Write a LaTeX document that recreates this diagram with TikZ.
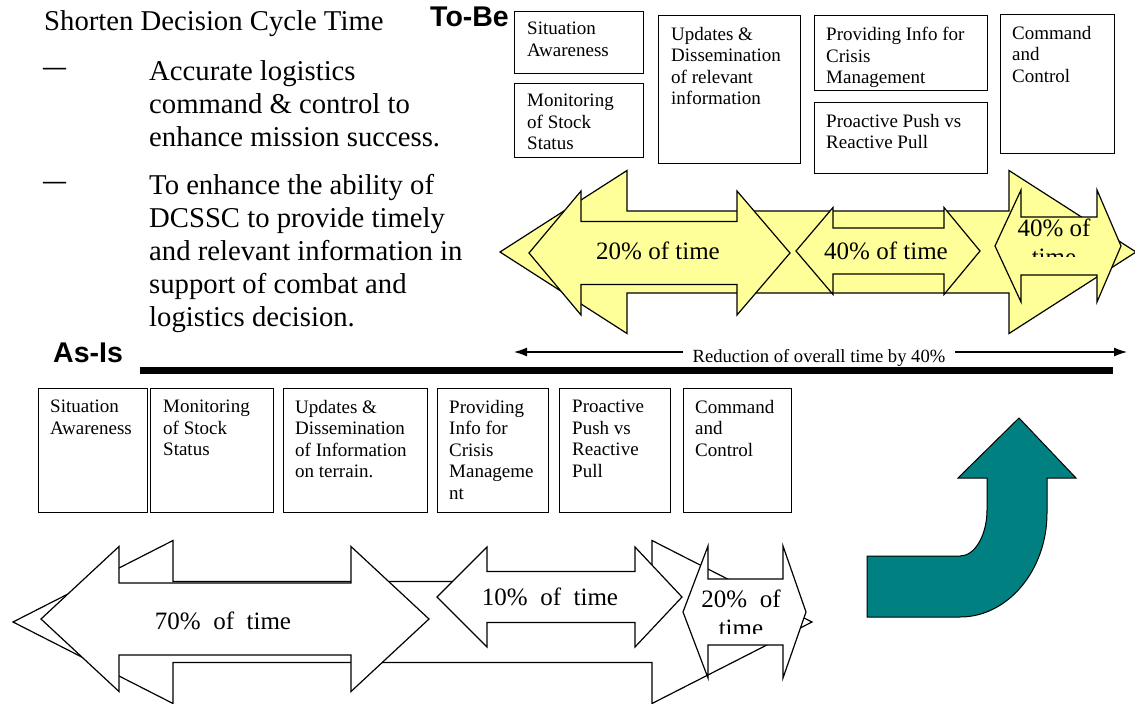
\documentclass[tikz,border=0pt]{standalone}
\usepackage{fontspec}
\setmainfont{Liberation Serif}
\setsansfont{Liberation Sans}
\usetikzlibrary{arrows.meta}
\definecolor{yfill}{HTML}{FFFF99}
\definecolor{tealc}{HTML}{008080}
\tikzset{
  yarrow/.style={draw=black, line width=1.2pt, fill=yfill, line join=miter},
  warrow/.style={draw=black, line width=1.2pt, fill=white, line join=miter},
  boxst/.style={draw=black, line width=1.4pt, inner sep=0pt, fill=white},
  boxtext/.style={inner sep=0pt, align=left, font=\fontsize{19}{21.5}\selectfont},
  side/.style={inner sep=0pt, font=\fontsize{28.7}{33}\selectfont},
  dashmark/.style={inner sep=0pt, font=\bfseries\fontsize{23}{23}\selectfont},
  lbl/.style={inner sep=0pt, font=\sffamily\bfseries\fontsize{28.5}{32}\selectfont},
  pct/.style={inner sep=0pt, font=\fontsize{25}{29}\selectfont, align=center},
  redtext/.style={fill=white, inner xsep=10pt, inner ysep=1pt, font=\fontsize{18.6}{21}\selectfont},
  tealarrow/.style={draw=black, line width=1pt, fill=tealc},
  bar/.style={line width=7pt},
  dimarrow/.style={line width=1.2pt, {Latex[length=13pt,width=9pt]}-{Latex[length=13pt,width=9pt]}}
}
% style, tipL, backL, backR, tipR, yc, shaft half, head half
\newcommand{\darr}[8]{\draw[#1] (#2,#6) -- (#3,{#6-#8}) -- (#3,{#6-#7}) -- (#4,{#6-#7}) -- (#4,{#6-#8}) -- (#5,#6) -- (#4,{#6+#8}) -- (#4,{#6+#7}) -- (#3,{#6+#7}) -- (#3,{#6+#8}) -- cycle;}
% name, x, y, w, h, pad x, pad y, text
\newcommand{\tbox}[8]{%
  \node[boxst, minimum width=#4pt, minimum height=#5pt, anchor=north west] (#1) at (#2,#3) {};
  \node[boxtext, anchor=north west] (#1t) at ([shift={(#6pt,-#7pt)}]#1.north west) {#8};}
\begin{document}
\begin{tikzpicture}[x=1pt,y=-1pt]
\useasboundingbox (0,0) rectangle (1135,704);

% left text
\node[side, anchor=base west] (t0) at (44,30) {Shorten Decision Cycle Time};
\node[dashmark, anchor=base west] (d1) at (43,74.5) {—};
\node[side, anchor=base west] (l1) at (149,80) {Accurate logistics};
\node[side, anchor=base west] (l2) at (149,113) {command \& control to};
\node[side, anchor=base west] (l3) at (149,146) {enhance mission success.};
\node[dashmark, anchor=base west] (d2) at (43,188.5) {—};
\node[side, anchor=base west] (l4) at (149,194) {To enhance the ability of};
\node[side, anchor=base west] (l5) at (149,227) {DCSSC to provide timely};
\node[side, anchor=base west] (l6) at (149,260) {and relevant information in};
\node[side, anchor=base west] (l7) at (149,293) {support of combat and};
\node[side, anchor=base west] (l8) at (149,326) {logistics decision.};

\node[lbl, anchor=base west] (tobe) at (430,26) {To-Be};
\node[lbl, anchor=base west] (asis) at (53,362) {As-Is};

% top boxes
\tbox{sa}{514}{11}{129}{62}{13}{11}{Situation\\Awareness}
\tbox{ms}{514}{83}{129}{74}{13}{11}{Monitoring\\of Stock\\Status}
\tbox{ud}{658}{15}{142}{148}{13}{12}{Updates \&\\Dissemination\\of relevant\\information}
\tbox{pi}{814}{15}{173}{75}{12}{12}{Providing Info for\\Crisis\\Management}
\tbox{pp}{814}{102}{173}{71}{12}{12}{Proactive Push vs\\Reactive Pull}
\tbox{cc}{1000}{14}{114}{139}{12}{12}{Command\\and\\Control}

% top yellow arrows
\darr{yarrow}{500}{627}{1009}{1136}{252}{41}{81.5}
\darr{yarrow}{529}{581}{737}{790}{253}{31.5}{62}
\darr{yarrow}{796}{833}{944}{980}{251}{23}{43.5}
\darr{yarrow}{995}{1021}{1097}{1121}{246}{29}{56}
\node[pct] (p20) at (658,251) {20\% of time};
\node[pct] (p40) at (886,251) {40\% of time};
\begin{scope}
\clip (1000,200) rectangle (1118,256);
\node[pct, anchor=north] (p40b) at (1054,219) {40\% of\\time};
\end{scope}

% reduction arrow and bar
\coordinate (rl) at (514,352);
\coordinate (rr) at (1127,352);
\draw[dimarrow] (rl) -- (rr);
\node[redtext] (red) at (819,358) {Reduction of overall time by 40\%};
\coordinate (bl) at (140,370);
\coordinate (br) at (1113,370);
\draw[bar] (bl) -- (br);

% bottom boxes
\tbox{bsa}{38}{388}{109}{124}{12}{12}{Situation\\Awareness}
\tbox{bms}{150}{388}{123}{124}{13}{12}{Monitoring\\of Stock\\Status}
\tbox{bud}{283}{388}{144}{124}{12}{12}{Updates \&\\Dissemination\\of Information\\on terrain.}
\tbox{bpi}{437}{388}{111}{124}{12}{12}{Providing\\Info for\\Crisis\\Manageme\\nt}
\tbox{bpp}{559}{388}{111}{124}{13}{12}{Proactive\\Push vs\\Reactive\\Pull}
\tbox{bcc}{683}{388}{108}{124}{12}{12}{Command\\and\\Control}

% bottom white arrows
\darr{warrow}{13}{173}{652}{812}{622}{40.5}{81.5}
\darr{warrow}{41}{119}{351}{429}{619}{36}{72.5}
\darr{warrow}{437}{487}{635}{682}{597}{25.5}{50}
\darr{warrow}{683}{708}{783}{806}{612}{33}{66}
\node[pct] (b70) at (223,621) {70\%~~of~~time};
\node[pct] (b10) at (550,597) {10\%~~of~~time};
\begin{scope}
\clip (700,580) rectangle (790,633);
\node[pct, anchor=north] (b20) at (741,590) {20\%~~of\\time};
\end{scope}

% teal bent arrow
\draw[tealarrow] (1019,418) -- (1076,478) -- (1047,478) -- (1047,513)
  .. controls (1047,570) and (1008,617) .. (960,617) -- (867,617) -- (867,556) -- (960,556)
  .. controls (975,556) and (987,535) .. (987,510) -- (987,478) -- (958,478) -- cycle;
\end{tikzpicture}
\end{document}
